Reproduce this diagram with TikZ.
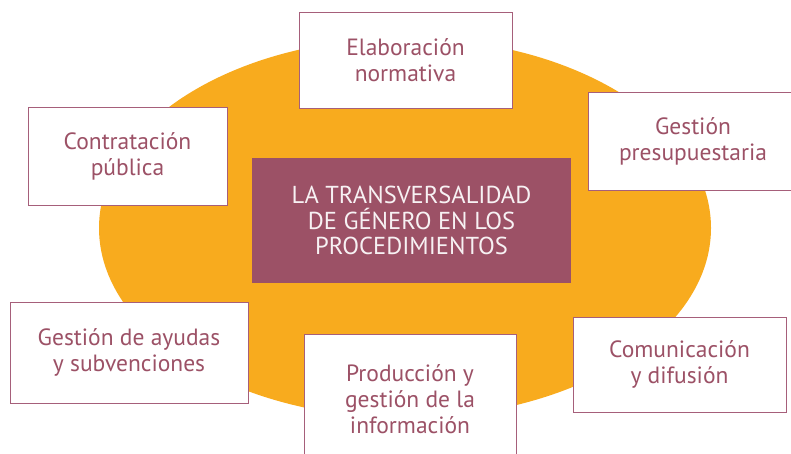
\documentclass[tikz,border=0pt]{standalone}
\usepackage{fontspec}
\setmainfont{PT Sans}
\usepackage{tikz}

\definecolor{naranja}{HTML}{F8AB1E}
\definecolor{granate}{HTML}{9C5166}
\definecolor{rosa}{HTML}{A65F7A}

\begin{document}
\begin{tikzpicture}[x=1pt, y=-1pt,
      caja/.style={draw=rosa, line width=0.9pt, fill=white, text=granate,
        align=center, inner sep=0pt, font=\fontsize{23.5}{26}\selectfont},
      centro/.style={fill=granate, text=white!92!granate, align=center,
        inner sep=0pt, font=\fontsize{24.5}{25.5}\selectfont}]
      \useasboundingbox (0,0) rectangle (791,453);
      \clip (0,0) rectangle (791,453);
      \fill[naranja] (405,228) ellipse [x radius=306, y radius=190];
      \node[centro, minimum width=319pt, minimum height=125pt] (T) at (411.5,220.5)
        {LA TRANSVERSALIDAD\\DE GÉNERO EN LOS\\PROCEDIMIENTOS};
      \node[caja, minimum width=213pt, minimum height=96pt] (elab) at (405.5,60)
        {Elaboración\\normativa};
      \node[caja, minimum width=199pt, minimum height=98pt] (contr) at (127.5,156)
        {Contratación\\pública};
      \node[caja, minimum width=210pt, minimum height=98pt] (presu) at (693,141)
        {Gestión\\presupuestaria};
      \node[caja, minimum width=238pt, minimum height=101pt] (ayudas) at (129,352.5)
        {Gestión de ayudas\\y subvenciones};
      \node[caja, minimum width=212pt, minimum height=130pt] (produc) at (410,399)
        {Producción y\\gestión de la\\información};
      \node[caja, minimum width=213pt, minimum height=95pt] (comun) at (679.5,364.5)
        {Comunicación\\y difusión};
    \end{tikzpicture}
\end{document}
